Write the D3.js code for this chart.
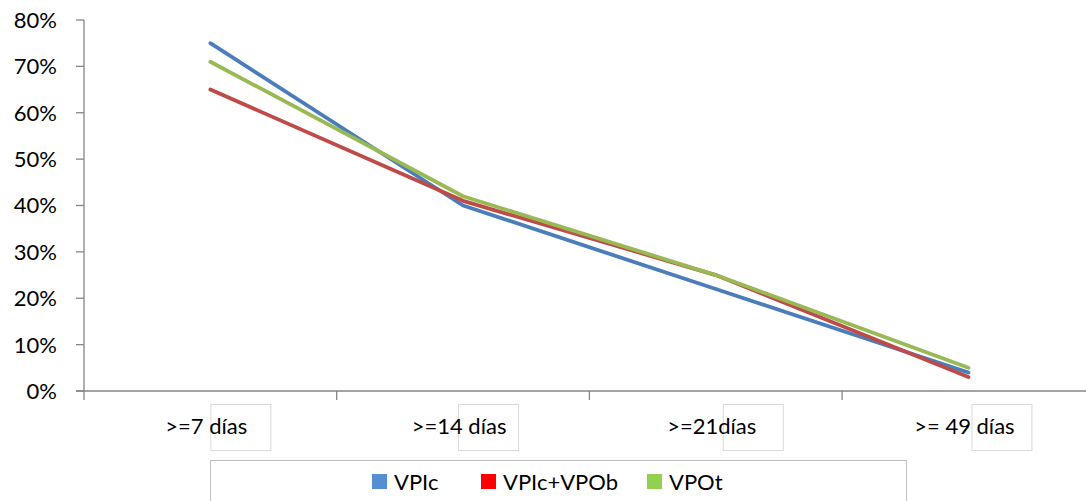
<!DOCTYPE html>
<head>
	<meta charset="UTF-8">
	<script src="https://d3js.org/d3.v7.min.js"></script>
	<title>VPIc / VPOb / VPOt</title>
<style>
	body{ margin: 0; background-color: #fff; }
	svg{ display: block; }
</style>
</head>

<body>
	<svg width=1086 height=501></svg>
</body>

<script>
	// Chart data
	var categories = [">=7 días", ">=14 días", ">=21días", ">= 49 días"];
	var seriesNames = ["VPIc", "VPIc+VPOb", "VPOt"];
	var vpic = [0.75, 0.40, 0.22, 0.04];
	var vpicVpob = [0.65, 0.41, 0.25, 0.03];
	var vpot = [0.71, 0.42, 0.25, 0.05];
	var yTicks = [0, 0.1, 0.2, 0.3, 0.4, 0.5, 0.6, 0.7, 0.8];

	var lineColors = ["#4A7EBB", "#BE4B48", "#98B954"];
	var legendColors = ["#558ED5", "#FF0000", "#92D050"];
	var axisGray = "rgb(134,134,134)";
	var font = "Lato, 'Open Sans', sans-serif";
	var fontSize = 22;

	var series = [vpic, vpicVpob, vpot];

	var svg = d3.select("svg");

	// Plot area
	var plotLeft = 84, plotTop = 20, plotBottom = 391;
	var bandW = 252.7;

	var x = d3.scaleBand()
				.domain(categories)
				.range([plotLeft, plotLeft + bandW * categories.length]);
	var y = d3.scaleLinear()
				.domain([0, 0.8])
				.range([plotBottom, plotTop]);

	// Y axis
	var yAxis = svg.append("g").attr("transform", "translate(" + plotLeft + ",0)");
	yAxis.append("line")
			.attr("x1", 0).attr("x2", 0)
			.attr("y1", y(0.8)).attr("y2", y(0))
			.attr("stroke", axisGray).attr("stroke-width", 1.3);
	yAxis.selectAll(".tick")
			.data(yTicks).enter()
			.append("line")
			.attr("x1", -8).attr("x2", 0)
			.attr("y1", d => y(d)).attr("y2", d => y(d))
			.attr("stroke", axisGray).attr("stroke-width", 1.3);
	yAxis.selectAll("text")
			.data(yTicks).enter()
			.append("text")
			.attr("x", -27)
			.attr("y", d => y(d))
			.attr("dy", "0.36em")
			.attr("text-anchor", "end")
			.attr("font-family", font)
			.attr("font-size", fontSize)
			.attr("fill", "#000")
			.text(d => Math.round(d * 100) + "%");

	// X axis
	var xAxis = svg.append("g");
	xAxis.append("line")
			.attr("x1", plotLeft - 8).attr("x2", 1086)
			.attr("y1", y(0)).attr("y2", y(0))
			.attr("stroke", axisGray).attr("stroke-width", 1.3);
	var bounds = categories.map(c => x(c)).concat([x(categories[categories.length - 1]) + x.bandwidth()]);
	xAxis.selectAll(".tick")
			.data(bounds).enter()
			.append("line")
			.attr("x1", d => d).attr("x2", d => d)
			.attr("y1", y(0)).attr("y2", y(0) + 9)
			.attr("stroke", axisGray).attr("stroke-width", 1.3);

	// Small boxes behind category labels
	var boxOffset = [0, -5, 7, 3];
	xAxis.selectAll("rect")
			.data(categories).enter()
			.append("rect")
			.attr("x", (d, i) => x(d) + x.bandwidth() / 2 + boxOffset[i] + 0.5)
			.attr("y", 404.5)
			.attr("width", 60)
			.attr("height", 46)
			.attr("fill", "none")
			.attr("stroke", "#d9d9d9")
			.attr("stroke-width", 1);
	xAxis.selectAll("text")
			.data(categories).enter()
			.append("text")
			.attr("x", d => x(d) + x.bandwidth() / 2 - 4)
			.attr("y", 434)
			.attr("text-anchor", "middle")
			.attr("font-family", font)
			.attr("font-size", fontSize)
			.attr("fill", "#000")
			.text(d => d);

	// Lines
	var line = d3.line()
				.x((d, i) => x(categories[i]) + x.bandwidth() / 2)
				.y(d => y(d));
	svg.append("g").selectAll("path")
			.data(series).enter()
			.append("path")
			.attr("d", line)
			.attr("fill", "none")
			.attr("stroke", (d, i) => lineColors[i])
			.attr("stroke-width", 3.8)
			.attr("stroke-linecap", "round")
			.attr("stroke-linejoin", "round");

	// Legend
	var legend = svg.append("g");
	legend.append("rect")
			.attr("x", 210.5).attr("y", 460.5)
			.attr("width", 696).attr("height", 60)
			.attr("fill", "none")
			.attr("stroke", "#bfbfbf")
			.attr("stroke-width", 1);
	var legendX = [372, 481, 647];
	var items = legend.selectAll(".item")
			.data(seriesNames).enter()
			.append("g")
			.attr("transform", (d, i) => "translate(" + legendX[i] + ",0)");
	items.append("rect")
			.attr("x", 0).attr("y", 474)
			.attr("width", 15).attr("height", 15)
			.attr("fill", (d, i) => legendColors[i]);
	items.append("text")
			.attr("x", 22).attr("y", 490)
			.attr("font-family", font)
			.attr("font-size", fontSize)
			.attr("fill", "#000")
			.text(d => d);
</script>
